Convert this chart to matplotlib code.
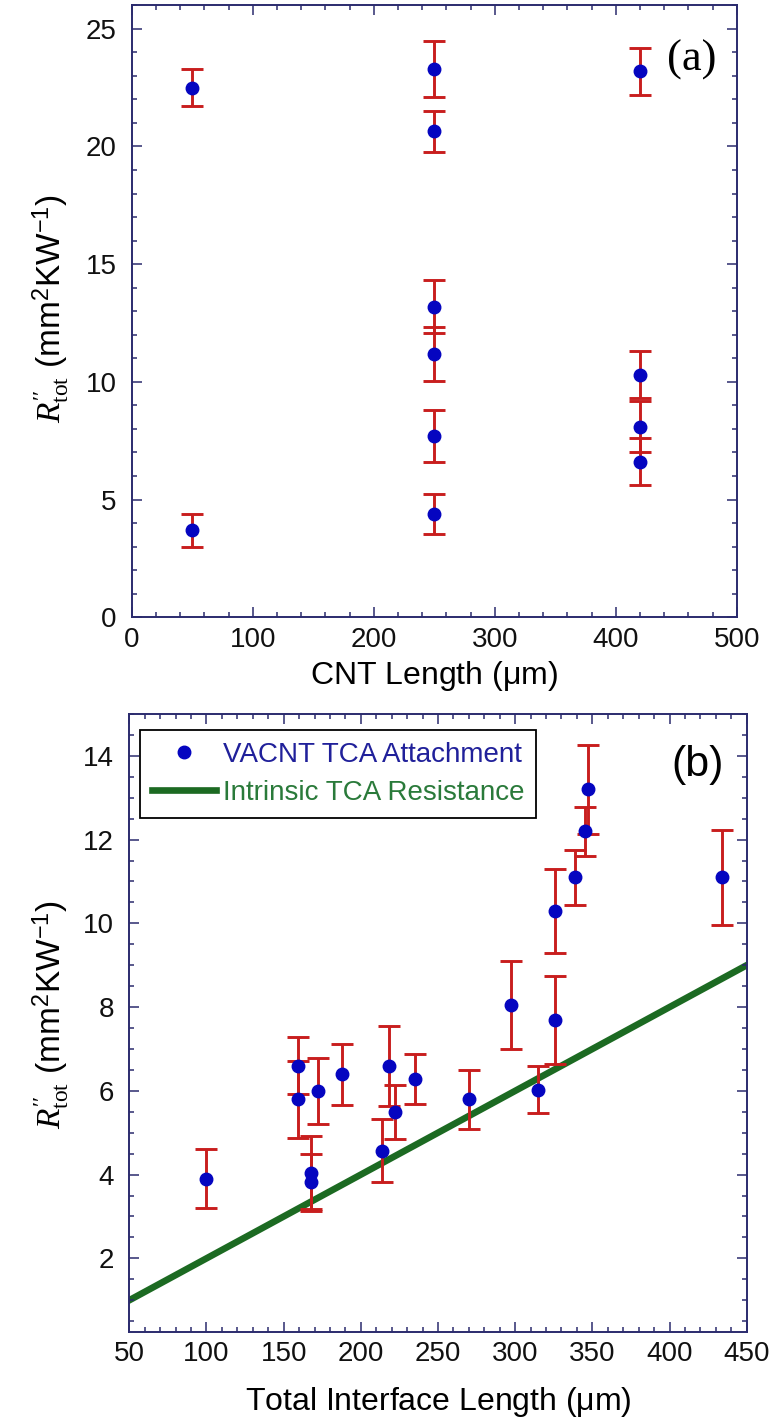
import matplotlib
matplotlib.use('Agg')
import matplotlib.pyplot as plt
from matplotlib.lines import Line2D
from matplotlib.ticker import MultipleLocator

plt.rcParams['font.family'] = ['Liberation Sans', 'DejaVu Sans']
plt.rcParams['mathtext.fontset'] = 'custom'
plt.rcParams['mathtext.rm'] = 'Liberation Serif'
plt.rcParams['mathtext.it'] = 'Liberation Serif:italic'
plt.rcParams['mathtext.sf'] = 'Liberation Sans'

# (a) total resistance vs CNT length
cnt_len = [50, 50, 250, 250, 250, 250, 250, 250, 420, 420, 420, 420]
r_a = [22.5, 3.7, 23.3, 20.65, 13.2, 11.2, 7.7, 4.4, 23.2, 10.3, 8.1, 6.6]
err_a = [0.8, 0.7, 1.2, 0.87, 1.13, 1.15, 1.1, 0.85, 1.0, 1.0, 1.08, 1.0]

# (b) total resistance vs total interface length
iface_len = [100, 159, 159, 168, 168, 172, 188, 214, 218, 222,
             235, 270, 297, 315, 326, 326, 339, 345, 347, 434]
r_b = [3.9, 6.6, 5.8, 4.05, 3.82, 6.0, 6.4, 4.57, 6.6, 5.5,
       6.28, 5.8, 8.05, 6.03, 7.7, 10.3, 11.1, 12.2, 13.2, 11.1]
err_b = [0.7, 0.68, 0.92, 0.87, 0.68, 0.79, 0.73, 0.75, 0.95, 0.65,
         0.6, 0.7, 1.05, 0.56, 1.05, 1.0, 0.66, 0.58, 1.06, 1.13]

# intrinsic TCA resistance line
fit_x = [50, 450]
fit_y = [1.0, 9.0]

navy = '#2b2b6e'
blue = '#0505c0'
red = '#c81e1e'
green = '#1c6a22'

ylab = (r"$\mathit{R}^{\prime\prime}_{\mathrm{tot}}$ "
        r"(mm$^{\mathsf{2}}$KW$^{\mathsf{-1}}$)")


def style(ax):
    for s in ax.spines.values():
        s.set_color(navy)
        s.set_linewidth(1.4)
    ax.tick_params(which='both', direction='in', top=True, right=True,
                   color=navy, labelcolor='#111111', labelsize=20, width=1.1)
    ax.tick_params(which='major', length=7)
    ax.tick_params(which='minor', length=3.5)
    ax.tick_params(axis='x', pad=7)
    ax.tick_params(axis='y', pad=11)


def points(ax, x, y, e):
    ax.errorbar(x, y, yerr=e, fmt='o', color=blue, ms=9,
                ecolor=red, elinewidth=2.1, capsize=8, capthick=2.1, zorder=3)


fig = plt.figure(figsize=(7.73, 14.18), dpi=100)

ax1 = fig.add_axes([0.1704, 0.5647, 0.7827, 0.4316])
points(ax1, cnt_len, r_a, err_a)
ax1.set_xlim(0, 500)
ax1.set_ylim(0, 26)
ax1.xaxis.set_major_locator(MultipleLocator(100))
ax1.xaxis.set_minor_locator(MultipleLocator(20))
ax1.yaxis.set_major_locator(MultipleLocator(5))
ax1.yaxis.set_minor_locator(MultipleLocator(1))
style(ax1)
ax1.set_xlabel(r'CNT Length ($\mathsf{\mu}$m)', fontsize=23)
ax1.xaxis.set_label_coords(0.5, -0.069)
ax1.set_ylabel(ylab, fontsize=24)
ax1.yaxis.set_label_coords(-0.098, 0.505)
ax1.text(0.926, 0.911, '(a)', transform=ax1.transAxes, ha='center', va='center',
         fontsize=32, family='Liberation Serif')

ax2 = fig.add_axes([0.1673, 0.0609, 0.7987, 0.4356])
ax2.plot(fit_x, fit_y, color=green, lw=4.8, zorder=1)
points(ax2, iface_len, r_b, err_b)
ax2.set_xlim(50, 450)
ax2.set_ylim(0.25, 15)
ax2.xaxis.set_major_locator(MultipleLocator(50))
ax2.xaxis.set_minor_locator(MultipleLocator(10))
ax2.yaxis.set_major_locator(MultipleLocator(2))
ax2.yaxis.set_minor_locator(MultipleLocator(0.5))
style(ax2)
ax2.set_xlabel(r'Total Interface Length ($\mathsf{\mu}$m)', fontsize=23)
ax2.xaxis.set_label_coords(0.5, -0.086)
ax2.set_ylabel(ylab, fontsize=24)
ax2.yaxis.set_label_coords(-0.093, 0.514)
ax2.text(0.921, 0.917, '(b)', transform=ax2.transAxes, ha='center', va='center',
         fontsize=31)

handles = [Line2D([], [], ls='none', marker='o', color=blue, ms=9),
           Line2D([], [], color=green, lw=4.8)]
leg = ax2.legend(handles, ['VACNT TCA Attachment', 'Intrinsic TCA Resistance'],
                 loc='upper left', bbox_to_anchor=(0.0173, 0.974), borderaxespad=0,
                 fontsize=20, fancybox=False, edgecolor='black', framealpha=1,
                 handlelength=2.3, handletextpad=0.25, borderpad=0.42,
                 labelspacing=0.45)
leg.get_frame().set_linewidth(1.3)
for t, c in zip(leg.get_texts(), ['#20209a', '#2a7a3a']):
    t.set_color(c)

fig.savefig('out.png', dpi=100)
